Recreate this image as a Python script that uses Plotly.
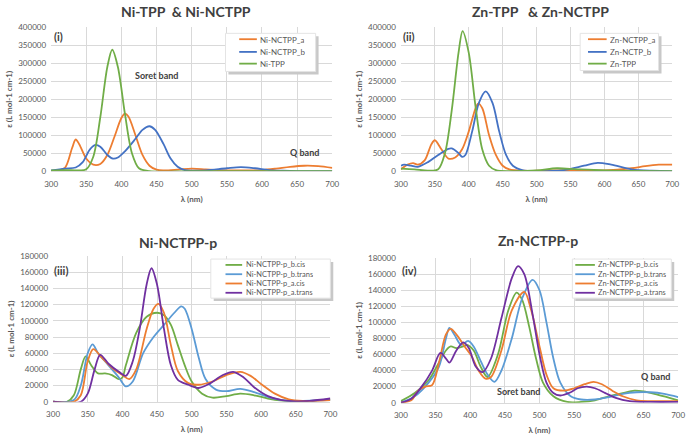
import plotly.graph_objects as go

# ---------------- data ----------------
# Panel (i)
ni_a_x = [300,310,320,330,335,340,350,360,370,380,390,400,405,410,420,430,440,450,460,480,500,520,540,560,580,600,620,640,660,680,700]
ni_a_y = [0,1000,10000,65000,88000,75000,35000,18000,20000,45000,95000,148000,160000,152000,100000,45000,15000,4000,2000,4000,7000,5000,3000,2000,2000,3000,7000,12000,15000,14000,9000]
ni_b_x = [300,320,335,345,355,363,370,380,388,395,405,420,430,440,448,460,470,480,490,500,520,550,570,590,610,630,650,700]
ni_b_y = [2000,7000,10000,25000,60000,73000,68000,45000,35000,38000,55000,90000,115000,125000,115000,75000,35000,12000,3000,1500,2000,8000,11000,8000,3000,1000,0,0]
ni_tpp_x = [300,320,340,350,360,370,380,387,395,405,415,425,440,500,600,700]
ni_tpp_y = [2000,3000,2000,5000,40000,150000,290000,338000,290000,160000,50000,8000,0,0,0,0]

# Panel (ii)
zn_a_x = [300,310,318,325,335,345,350,360,370,380,390,400,410,414,420,430,440,450,460,480,500,550,600,640,660,680,700]
zn_a_y = [5000,18000,22000,18000,30000,75000,86000,60000,35000,38000,60000,110000,175000,188000,175000,100000,45000,15000,5000,1000,1000,3000,2000,8000,14000,18000,18000]
zn_b_x = [300,305,315,325,340,355,370,375,385,390,395,405,415,425,435,445,455,465,480,500,540,570,590,610,640,670,700]
zn_b_y = [15000,18000,15000,12000,25000,45000,62000,63000,50000,40000,45000,110000,190000,222000,190000,110000,45000,15000,2000,0,3000,15000,23000,18000,5000,1000,0]
zn_tpp_x = [300,320,340,355,365,375,385,391,400,410,420,430,440,460,500,530,560,600,700]
zn_tpp_y = [7000,5000,1000,5000,50000,170000,330000,390000,330000,180000,60000,15000,3000,0,2000,8000,5000,2000,0]

# Panel (iii)
nip_bc_x = [300,320,330,340,347,355,365,375,385,395,400,405,420,435,450,460,470,480,490,500,515,530,550,570,590,610,630,650,670,700]
nip_bc_y = [0,0,8000,40000,56000,45000,35000,35000,33000,28000,30000,45000,85000,105000,110000,107000,95000,70000,45000,25000,10000,5000,7000,10000,8000,4000,1500,500,1000,3000]
nip_bt_x = [300,330,340,350,357,365,380,395,405,415,430,445,460,475,485,490,500,510,520,535,550,570,590,610,630,650,700]
nip_bt_y = [0,2000,20000,60000,71000,60000,45000,30000,19000,25000,60000,80000,95000,110000,118000,115000,90000,55000,28000,15000,13000,16000,12000,6000,2000,1000,2000]
nip_ac_x = [300,330,340,350,358,370,385,400,410,420,435,445,452,460,470,480,495,510,530,550,570,585,600,620,640,660,700]
nip_ac_y = [0,0,8000,50000,65000,55000,42000,33000,28000,40000,90000,115000,121000,110000,70000,38000,23000,21000,25000,33000,37000,32000,22000,10000,3000,1000,2000]
nip_at_x = [300,340,350,360,368,380,395,405,415,425,435,442,450,460,470,480,495,510,525,545,560,575,590,610,630,650,670,700]
nip_at_y = [0,0,10000,40000,58000,47000,37000,32000,50000,90000,145000,165000,145000,90000,45000,27000,21000,17000,22000,33000,37000,30000,18000,7000,2000,500,1000,4000]

# Panel (iv)
znp_bc_x = [300,320,340,355,365,372,380,390,395,405,415,425,440,455,467,475,485,495,505,520,540,560,580,600,620,637,650,670,700]
znp_bc_y = [2000,12000,28000,50000,65000,70000,68000,70000,72000,65000,45000,32000,60000,115000,137000,128000,95000,55000,25000,8000,1000,1000,3000,8000,12000,15000,14000,10000,3000]
znp_bt_x = [300,320,340,355,365,370,377,387,397,405,415,425,435,445,460,475,490,500,510,520,530,545,560,580,600,620,640,660,680,700]
znp_bt_y = [0,8000,25000,45000,80000,93000,85000,72000,77000,70000,52000,35000,26000,40000,80000,130000,153000,140000,100000,55000,25000,8000,4000,4000,7000,11000,13000,13000,11000,7000]
znp_ac_x = [300,315,325,335,345,355,365,372,380,392,402,412,422,430,445,460,478,488,500,510,520,535,550,565,578,590,605,620,640,660,700]
znp_ac_y = [0,3000,15000,20000,22000,50000,85000,92000,85000,70000,58000,40000,30000,32000,65000,115000,138000,115000,70000,35000,18000,15000,18000,23000,26000,23000,15000,8000,3000,2000,2000]
znp_at_x = [300,315,330,345,357,365,370,380,390,398,408,418,430,445,460,469,478,490,500,510,520,530,545,555,568,580,595,610,630,660,700]
znp_at_y = [0,5000,20000,40000,62000,55000,50000,65000,75000,68000,45000,38000,55000,105000,155000,170000,160000,110000,60000,25000,12000,9000,13000,18000,20000,18000,12000,6000,2000,1000,1000]

x_ticks = [300,350,400,450,500,550,600,650,700]

ORANGE = "#ED7D31"
BLUE = "#4472C4"
GREEN = "#70AD47"
LBLUE = "#5B9BD5"
PURPLE = "#7030A0"

FONT = "Lato"
TXT = "#595959"

W, H = 693, 438

def px_x(p):
    return p / W

def px_y(p):
    return 1 - p / H

panels = {
    1: dict(x=(45, 332), y=(23, 170), ymax=400000, dtick=50000),
    2: dict(x=(402, 679), y=(23, 170), ymax=400000, dtick=50000),
    3: dict(x=(47, 330), y=(257, 406), ymax=180000, dtick=20000),
    4: dict(x=(402, 685), y=(259, 407), ymax=180000, dtick=20000),
}

series = [
    (1, "Ni-NCTPP_a", ni_a_x, ni_a_y, ORANGE),
    (1, "Ni-NCTPP_b", ni_b_x, ni_b_y, BLUE),
    (1, "Ni-TPP", ni_tpp_x, ni_tpp_y, GREEN),
    (2, "Zn-NCTPP_a", zn_a_x, zn_a_y, ORANGE),
    (2, "Zn-NCTP_b", zn_b_x, zn_b_y, BLUE),
    (2, "Zn-TPP", zn_tpp_x, zn_tpp_y, GREEN),
    (3, "Ni-NCTPP-p_b.cis", nip_bc_x, nip_bc_y, GREEN),
    (3, "Ni-NCTPP-p_b.trans", nip_bt_x, nip_bt_y, LBLUE),
    (3, "Ni-NCTPP-p_a.cis", nip_ac_x, nip_ac_y, ORANGE),
    (3, "Ni-NCTPP-p_a.trans", nip_at_x, nip_at_y, PURPLE),
    (4, "Zn-NCTPP-p_b.cis", znp_bc_x, znp_bc_y, GREEN),
    (4, "Zn-NCTPP-p_b.trans", znp_bt_x, znp_bt_y, LBLUE),
    (4, "Zn-NCTPP-p_a.cis", znp_ac_x, znp_ac_y, ORANGE),
    (4, "Zn-NCTPP-p_a.trans", znp_at_x, znp_at_y, PURPLE),
]

fig = go.Figure()
for k, name, xs, ys, col in series:
    sfx = "" if k == 1 else str(k)
    fig.add_trace(go.Scatter(
        x=xs, y=ys, name=name, mode="lines",
        line=dict(color=col, width=1.8, shape="spline", smoothing=0.9),
        xaxis="x" + sfx, yaxis="y" + sfx, showlegend=False,
    ))

layout = dict(
    width=W, height=H, margin=dict(l=0, r=0, t=0, b=0),
    paper_bgcolor="white", plot_bgcolor="white",
    font=dict(family=FONT, size=8, color=TXT),
    showlegend=False,
)

shapes = []
annotations = []

# legend boxes: (box x0, y0, x1, y1, line x0, line x1, text x, row ys, font size)
legend_geo = {
    1: (223, 29, 315, 68, 237, 255, 257, [35, 48, 60], 8),
    2: (585, 29, 665, 67, 593, 612, 614, [35, 48, 60], 8),
    3: (208, 260, 330, 300, 223, 240, 243, [266, 275.5, 285, 294.5], 7.5),
    4: (577, 260, 678, 300, 580, 600, 602, [266, 275.5, 285, 294.5], 7.5),
}

for k, p in panels.items():
    sfx = "" if k == 1 else str(k)
    x0, x1 = p["x"]
    y0, y1 = p["y"]
    layout["xaxis" + sfx] = dict(
        domain=[px_x(x0), px_x(x1)], anchor="y" + sfx, range=[300, 700],
        tickvals=x_ticks, showgrid=True, gridcolor="#D9D9D9", gridwidth=1,
        showline=True, linecolor="#D9D9D9", zeroline=False, ticks="",
        ticklabelstandoff=5,
        tickfont=dict(size=8, color=TXT, family=FONT),
        title=dict(text="<b>λ (nm)</b>", font=dict(size=8, color=TXT, family=FONT), standoff=8),
    )
    layout["yaxis" + sfx] = dict(
        domain=[px_y(y1), px_y(y0)], anchor="x" + sfx, range=[0, p["ymax"]],
        dtick=p["dtick"], tickformat="d", showgrid=True, gridcolor="#D9D9D9",
        gridwidth=1, zeroline=False, showline=False, ticks="",
        ticklabelstandoff=4,
        tickfont=dict(size=8, color=TXT, family=FONT),
        title=dict(text="<b>ε (L mol-1 cm-1)</b>", font=dict(size=8, color=TXT, family=FONT), standoff=4),
    )
    bx0, by0, bx1, by1, lx0, lx1, tx, rows, fs = legend_geo[k]
    # shadow then box
    shapes.append(dict(type="rect", xref="paper", yref="paper",
                       x0=px_x(bx0 + 3), x1=px_x(bx1 + 3), y0=px_y(by1 + 3), y1=px_y(by0 + 3),
                       fillcolor="#C8C8C8", line=dict(width=0), layer="above"))
    shapes.append(dict(type="rect", xref="paper", yref="paper",
                       x0=px_x(bx0), x1=px_x(bx1), y0=px_y(by1), y1=px_y(by0),
                       fillcolor="white", line=dict(color="#E4E4E4", width=1), layer="above"))
    items = [s for s in series if s[0] == k]
    for (kk, name, xs, ys, col), ry in zip(items, rows):
        shapes.append(dict(type="line", xref="paper", yref="paper",
                           x0=px_x(lx0), x1=px_x(lx1), y0=px_y(ry), y1=px_y(ry),
                           line=dict(color=col, width=1.8), layer="above"))
        annotations.append(dict(text=name, x=px_x(tx), y=px_y(ry), xref="paper", yref="paper",
                                showarrow=False, xanchor="left", yanchor="middle",
                                borderpad=0, height=9 if fs < 8 else 11,
                                font=dict(size=fs, color=TXT, family=FONT)))

layout["shapes"] = shapes

titles = [
    ("Ni-TPP  & Ni-NCTPP", 183, 7),
    ("Zn-TPP   & Zn-NCTPP", 545, 7),
    ("Ni-NCTPP-p", 175, 243),
    ("Zn-NCTPP-p", 542, 241),
]
for t, cx, cy in titles:
    annotations.append(dict(text="<b>%s</b>" % t, x=px_x(cx), y=px_y(cy), xref="paper", yref="paper",
                            showarrow=False, xanchor="center", yanchor="middle",
                            font=dict(size=14, color="#404040", family=FONT)))

labels = [
    ("x", "y", 310, 375000, "(i)", 11),
    ("x", "y", 450, 267000, "Soret band", 9),
    ("x", "y", 660, 52000, "Q band", 9),
    ("x2", "y2", 312, 375000, "(ii)", 11),
    ("x3", "y3", 312, 162000, "(iii)", 11),
    ("x4", "y4", 312, 164000, "(iv)", 11),
    ("x4", "y4", 470, 13500, "Soret band", 9),
    ("x4", "y4", 667, 33000, "Q band", 9),
]
for xr, yr, xv, yv, t, s in labels:
    annotations.append(dict(text="<b>%s</b>" % t, x=xv, y=yv, xref=xr, yref=yr,
                            showarrow=False, xanchor="center", yanchor="middle",
                            font=dict(size=s, color="#404040", family=FONT)))

layout["annotations"] = annotations
fig.update_layout(**layout)
fig.write_html("out.html")
